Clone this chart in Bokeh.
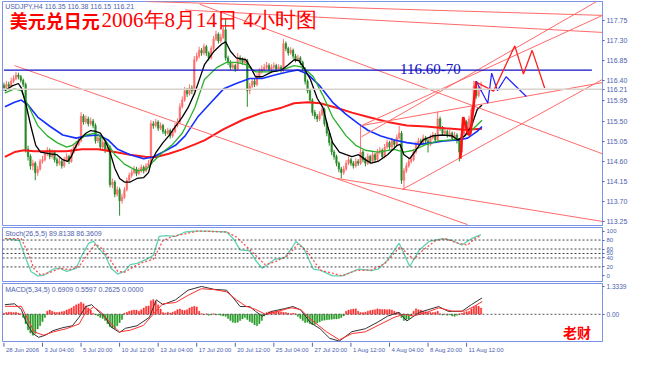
from bokeh.plotting import figure
from bokeh.layouts import column
from bokeh.models import Range1d, FixedTicker, Label, Span, NumeralTickFormatter, ColumnDataSource
from bokeh.core.properties import value
from bokeh.embed import file_html
from bokeh.resources import INLINE

# ---------------- data (H4 bars, index 0 = 28 Jun 2006 12:00) ----------------
first_open = 116.30
closes = [116.24,116.32,116.28,116.39,116.45,116.53,116.49,116.41,116.32,114.87,
          114.71,114.50,114.56,114.35,114.43,114.60,114.64,114.77,114.85,114.71,
          114.81,114.64,114.56,114.60,114.50,114.64,114.71,114.60,114.81,114.92,
          114.98,115.06,115.61,115.48,115.55,115.44,115.50,115.40,115.06,115.13,
          114.92,115.02,114.85,114.92,114.08,114.14,113.87,113.97,113.72,113.80,
          113.97,114.18,114.29,114.35,114.43,114.33,114.39,114.47,114.39,114.50,
          114.56,115.44,115.40,115.48,115.34,115.40,115.27,115.23,115.29,115.17,
          115.27,115.40,115.48,115.82,115.97,116.18,116.11,116.24,116.18,116.87,
          116.95,117.08,117.02,117.16,117.02,116.91,117.12,117.33,117.44,117.29,
          117.37,117.54,116.91,116.81,116.70,116.74,116.66,116.91,116.87,116.81,
          116.85,116.18,116.28,116.39,116.32,116.49,116.60,116.66,116.70,116.74,
          116.66,116.70,116.74,116.66,116.70,116.64,117.23,117.12,117.02,117.08,
          116.95,116.87,116.91,116.81,116.66,116.39,116.18,115.97,115.69,115.61,
          115.55,115.65,115.76,115.44,115.23,115.02,114.81,114.71,114.56,114.43,
          114.35,114.43,114.56,114.64,114.56,114.50,114.60,114.56,114.81,114.64,
          114.56,114.71,114.60,114.75,114.64,114.81,114.85,114.71,114.92,115.02,
          114.92,115.06,114.98,115.13,115.23,114.18,114.39,114.50,114.60,114.64,
          114.81,114.98,115.06,115.02,115.13,115.06,114.98,115.13,115.19,115.08,
          115.55,115.34,115.23,115.27,115.19,115.23,115.12,115.19,115.06,114.81,
          115.23,115.48,115.34,115.55,115.76,116.28,116.07,116.18,116.21]
highs = [116.36,116.40,116.38,116.47,116.52,116.60,116.58,116.53,116.45,116.36,
         114.95,114.76,114.64,114.60,114.50,114.66,114.72,114.83,114.92,114.89,
         114.87,114.85,114.69,114.68,114.64,114.70,114.78,114.75,114.88,114.99,
         115.05,115.13,115.70,115.66,115.63,115.60,115.58,115.55,115.45,115.20,
         115.17,115.09,115.06,114.99,114.96,114.22,114.18,114.04,114.02,113.88,
         114.03,114.24,114.35,114.42,114.50,114.48,114.46,114.53,114.51,114.56,
         114.63,115.52,115.50,115.55,115.52,115.47,115.44,115.32,115.35,115.33,
         115.34,115.46,115.56,115.90,116.05,116.26,116.24,116.32,116.30,116.95,
         117.03,117.16,117.13,117.23,117.20,117.06,117.18,117.40,117.52,117.48,
         117.45,117.62,117.79,116.96,116.86,116.81,116.78,117.02,116.97,116.92,
         116.92,116.89,116.35,116.46,116.44,116.56,116.68,116.74,116.78,116.82,
         116.79,116.77,116.81,116.78,116.77,116.75,117.33,117.28,117.16,117.15,
         117.12,117.00,116.98,116.95,116.85,116.70,116.43,116.22,116.01,115.75,
         115.66,115.72,115.84,115.80,115.48,115.27,115.06,114.86,114.75,114.60,
         114.48,114.50,114.63,114.71,114.68,114.61,114.67,114.65,115.40,114.86,
         114.69,114.78,114.75,114.82,114.79,114.88,114.92,114.89,114.99,115.09,
         115.06,115.13,115.10,115.20,115.40,115.28,114.45,114.57,114.67,114.71,
         114.88,115.05,115.13,115.11,115.20,115.17,115.10,115.20,115.26,115.23,
         115.71,115.60,115.39,115.34,115.31,115.30,115.27,115.26,115.23,115.10,
         115.30,115.56,115.52,115.62,115.83,116.40,116.33,116.28,116.38]
lows = [116.18,116.20,116.22,116.25,116.35,116.41,116.43,116.36,116.26,114.80,
        114.62,114.42,114.40,114.18,114.28,114.39,114.55,114.60,114.72,114.65,
        114.66,114.58,114.49,114.51,114.44,114.46,114.60,114.54,114.57,114.77,
        114.88,114.94,115.02,115.42,115.44,115.38,115.40,115.34,115.00,115.01,
        114.86,114.88,114.79,114.81,114.02,114.00,113.80,113.82,113.39,113.66,
        113.76,113.93,114.13,114.24,114.31,114.27,114.29,114.35,114.33,114.36,
        114.46,114.52,115.33,115.36,115.28,115.30,115.21,115.17,115.19,115.11,
        115.13,115.23,115.36,115.44,115.78,115.93,116.04,116.07,116.10,116.14,
        116.82,116.90,116.96,116.97,116.95,116.85,116.88,117.08,117.29,117.23,
        117.25,117.33,116.85,116.75,116.64,116.66,116.60,116.62,116.80,116.76,
        116.77,115.82,116.10,116.24,116.26,116.28,116.45,116.56,116.61,116.66,
        116.61,116.62,116.66,116.60,116.62,116.58,116.60,117.06,116.96,116.98,
        116.89,116.81,116.83,116.75,116.60,116.32,116.12,115.90,115.62,115.54,
        115.48,115.50,115.61,115.38,115.16,114.95,114.74,114.64,114.49,114.36,
        114.22,114.30,114.39,114.52,114.50,114.44,114.46,114.50,114.52,114.58,
        114.49,114.52,114.54,114.56,114.58,114.60,114.76,114.65,114.67,114.88,
        114.86,114.88,114.92,114.94,115.09,114.10,113.97,114.34,114.46,114.55,
        114.60,114.77,114.93,114.96,114.98,115.00,114.80,114.94,115.09,115.02,
        115.04,115.28,115.17,115.18,115.13,115.15,115.06,115.08,115.00,114.60,
        114.77,115.19,115.28,115.30,115.51,115.72,116.00,116.03,116.15]

# moving averages (bar index, price)
ma_black_x = [0.4,3.2,6,7.2,9.2,11.2,13.2,15.2,19.2,22,24.4,26.4,28,29.2,31.2,34,36,38,40,42,44,46,48,50,52.4,55.2,58,60,61.2,63.2,66,68.4,71.2,74,76.4,79.2,83.2,87.2,90.4,92,94,96.4,100.4,102.4,104.4,107.2,111.2,115.2,118,120.4,122.4,124.4,127.2,130,132.4,134.4,136.4,139.2,142,144.4,147.2,150,152.4,155.2,159.2,163.2,164.4,166,168.4,171.2,174,178,182,186,188.4,191.2,194,196.4,198.4]
ma_black_y = [116.18,116.28,116.34,116.24,115.86,115.38,114.96,114.81,114.77,114.75,114.64,114.60,114.71,114.87,115.08,115.23,115.29,115.27,115.23,115.06,114.81,114.45,114.22,114.14,114.14,114.22,114.24,114.35,114.60,114.81,115.02,115.17,115.38,115.59,115.80,116.13,116.76,117.06,117.22,117.27,117.06,116.91,116.87,116.70,116.49,116.49,116.60,116.64,116.76,116.87,116.85,116.70,116.43,116.01,115.80,115.38,115.02,114.81,114.75,114.71,114.75,114.64,114.56,114.60,114.75,114.96,114.98,114.75,114.66,114.87,115.08,115.17,115.19,115.17,115.08,115.17,115.38,115.76,115.86]
ma_green_x = [0.4,4.4,7.2,10,14,18,22,26,28.4,31.2,34,38,42,46,50,55.2,59.2,62,66,70,74,79.2,83.2,88.4,92.4,96.4,100.4,104.4,110,115.2,120.4,124.4,128.4,132.4,136.4,142,146,150,155.2,162,166,170,175.2,180.4,186,190,194,198.4]
ma_green_y = [116.13,116.22,116.18,115.86,115.40,115.17,115.02,114.92,114.96,115.08,115.19,115.23,115.08,114.75,114.54,114.39,114.43,114.60,114.81,114.98,115.23,115.80,116.43,116.70,116.81,116.81,116.76,116.60,116.60,116.64,116.74,116.70,116.49,116.07,115.59,115.17,114.96,114.85,114.81,114.87,114.81,114.85,114.98,115.06,115.08,115.12,115.29,115.52]
ma_blue_x = [0.4,4.4,7.2,10,14,19.2,24.4,30,34,39.2,43.2,47.2,52.4,58,62,66,71.2,75.2,80.4,86,91.2,96.4,102,107.2,112.4,118,122,126,131.2,136.4,142,147.2,151.2,156.4,162,167.2,172.4,178,183.2,188.4,192.4,196.4,198.4]
ma_blue_y = [115.82,115.92,115.97,115.86,115.59,115.38,115.19,115.12,115.17,115.19,115.08,114.87,114.75,114.66,114.70,114.81,114.96,115.17,115.59,115.92,116.22,116.34,116.45,116.45,116.53,116.60,116.64,116.55,116.28,115.92,115.65,115.44,115.29,115.17,115.08,115.02,114.98,115.02,115.06,115.08,115.12,115.27,115.38]
ma_red_x = [0.4,4.4,8.4,12.4,19.2,26,32.4,39.2,46,52.4,59.2,63.2,68.4,74,79.2,83.2,91.2,99.2,107.2,115.2,120.4,126,131.2,138,144.4,151.2,159.2,167.2,175.2,183.2,191.2,198.4]
ma_red_y = [114.70,114.81,114.85,114.83,114.83,114.83,114.87,114.87,114.81,114.75,114.70,114.70,114.77,114.87,114.98,115.07,115.32,115.53,115.69,115.80,115.90,115.92,115.90,115.80,115.69,115.59,115.48,115.40,115.38,115.34,115.31,115.33]

# drawn trend lines (bar index, price)
trend_x0 = [4.4, 81.2, 59.2, 75.2, 138.4, 165.2, 148.4, 148.4, 148.4]
trend_y0 = [116.74, 118.11, 118.17, 117.98, 114.22, 113.97, 115.40, 115.40, 115.15]
trend_x1 = [192.4, 248.4, 248.4, 248.4, 248.4, 248.4, 248.4, 248.4, 246.0]
trend_y1 = [113.19, 114.77, 117.86, 117.48, 113.26, 116.43, 116.36, 117.86, 118.17]
target_level = 116.64
target_x = [0, 244]
bid_level = 116.21
path_thick_x = [189.4, 190.6, 192.8, 193.6, 196.0]
path_thick_y = [114.66, 115.59, 115.19, 115.23, 116.39]
path_blue_x = [196.0, 200.8, 202.4, 204.8, 208.4, 216.8]
path_blue_y = [116.39, 115.90, 116.57, 116.18, 116.49, 116.05]
path_red_x = [196.4, 203.2, 212.0, 215.6, 219.2, 224.4]
path_red_y = [116.36, 116.17, 117.18, 116.55, 117.08, 116.24]

# Stochastic (26,5,5)
stoch_main_x = [0.4,6.4,9.2,11.2,14,16.4,20.4,23.2,26,30,32.4,35.2,37.2,39.2,42,44.4,47.2,50,52.4,55.2,59.2,62,64.4,67.2,71.2,75.2,79.2,84.4,92.4,95.2,98,102,104.4,107.2,110,112.4,116.4,119.2,121.2,124.4,128.4,131.2,136.4,140.4,147.2,152.4,155.2,159.2,164,168.4,172.4,176.4,182,186,190,194,198]
stoch_main_y = [83,79,37,10,0,1,15,17,10,17,46,73,77,62,46,17,4,10,25,28,37,46,88,90,88,98,100,100,98,83,58,56,35,17,27,37,40,60,77,62,15,13,0,0,15,12,15,35,73,21,58,77,83,79,69,83,92]
stoch_sig_x = [0.4,7.2,10.4,12.4,15.2,19.2,23.2,27.2,31.2,34.4,38,40.4,44,47.2,50,54,58,62,66,70,75.2,80.4,92.4,96.4,100.4,104.4,108.4,112.4,118,122,126,131.2,136.4,140.4,146,152.4,158,164.4,170,174,179.2,183.2,188.4,192.4,196.4,198]
stoch_sig_y = [83,83,46,17,2,8,17,14,21,46,71,62,37,10,8,21,31,37,79,88,94,100,98,87,67,46,25,31,46,71,54,13,6,0,12,13,27,65,37,58,79,83,73,69,87,88]
stoch_levels = [80, 60, 50, 40, 20]
stoch_ticks = [0, 20, 40, 50, 60, 80, 100]

# MACD (5,34,5)
macd_hist = [0.05,0.08,0.10,0.10,0.08,0.10,0.06,0.03,-0.15,-0.45,
             -0.75,-0.90,-1.00,-0.92,-0.70,-0.55,-0.35,-0.15,0.15,0.20,
             0.15,0.10,0.08,0.10,0.12,0.15,0.20,0.25,0.30,0.38,
             0.45,0.50,0.57,0.50,0.40,0.30,0.20,0.05,-0.03,-0.08,
             -0.15,-0.20,-0.30,-0.45,-0.60,-0.65,-0.68,-0.55,-0.40,-0.25,
             0.05,0.10,0.15,0.18,0.20,0.20,0.15,0.22,0.30,0.38,
             0.40,0.65,0.70,0.60,0.45,0.25,0.08,0.05,0.10,0.06,
             0.10,0.15,0.22,0.25,0.20,0.18,0.22,0.30,0.35,0.38,
             0.35,0.15,0.03,-0.02,0.02,-0.05,-0.03,0.02,-0.04,-0.02,
             -0.05,-0.08,-0.10,-0.20,-0.30,-0.38,-0.40,-0.38,-0.30,-0.22,
             -0.15,-0.25,-0.35,-0.40,-0.50,-0.55,-0.45,-0.30,-0.08,0.08,
             0.12,0.15,0.12,0.15,0.14,0.12,0.10,0.08,0.06,0.03,
             0.05,0.03,-0.10,-0.20,-0.30,-0.40,-0.38,-0.45,-0.50,-0.48,
             -0.42,-0.36,-0.30,-0.28,-0.26,-0.25,-0.24,-0.22,-0.22,-0.20,
             -0.15,-0.08,0.15,0.20,0.23,0.25,0.26,0.15,0.08,0.08,
             0.10,0.15,0.18,0.20,0.22,0.26,0.24,0.23,0.23,0.22,
             0.23,0.20,0.15,0.10,0.08,-0.15,-0.30,-0.25,-0.23,-0.08,
             0.15,0.26,0.22,0.20,0.15,0.12,0.10,0.08,0.08,0.10,
             0.15,0.02,-0.04,0.01,-0.05,-0.02,-0.08,-0.10,-0.05,0.02,
             0.05,0.08,0.12,0.15,0.26,0.35,0.41,0.38,0.30]
macd_main_x = [0.4,4.4,7.2,9.2,12,14.4,17.2,20.4,24.4,28.4,31.2,34,36.4,39.2,42,44.4,48,50.4,55.2,60.4,63.2,66,71.2,76.4,82,87.2,92.4,95.2,98,102,104.4,107.2,111.2,116.4,120,123.2,127.2,131.2,135.2,139.2,144.4,150,155.2,159.2,164,167.2,172.4,180.4,184.4,190,194,198.4]
macd_main_y = [0.46,0.50,0.23,-0.37,-0.92,-1.10,-1.00,-0.78,-0.64,-0.55,-0.14,0.37,0.46,0.14,-0.14,-0.60,-0.87,-0.67,-0.55,-0.14,0.69,0.46,0.69,1.15,1.33,1.19,1.15,0.78,0.37,0.37,0.14,-0.09,0.14,0.27,0.37,0.20,-0.40,-0.69,-1.15,-1.28,-0.83,-0.69,-0.37,-0.09,0.09,-0.32,0.09,0.37,0.14,0.14,0.46,0.78]
macd_sig_x = [0.4,7.2,9.9,12.5,16.5,20.5,25.9,31.2,33.9,37.2,40.5,44.5,47.9,52.5,57.9,61.9,65.9,71.2,76.5,81.9,87.2,92.5,96.5,100.5,104.5,108.5,113.9,119.2,123.2,127.2,130.5,133.9,139.2,144.5,149.9,156.5,161.9,165.9,169.9,175.2,180.5,185.9,191.2,195.2,198.5]
macd_sig_y = [0.38,0.38,-0.23,-0.84,-1.00,-0.84,-0.69,-0.46,0.08,0.35,0.08,-0.46,-0.84,-0.76,-0.53,0.00,0.50,0.56,0.91,1.22,1.18,1.07,0.69,0.38,0.23,0.00,0.15,0.31,0.23,-0.23,-0.53,-0.84,-1.22,-0.92,-0.84,-0.46,-0.15,0.00,-0.08,0.08,0.31,0.15,0.15,0.38,0.61]
macd_ticks = [-1.3224, 0.0, 1.3339]

price_ticks = [113.25, 113.70, 114.15, 114.60, 115.05, 115.50, 115.95, 116.21, 116.40, 116.85, 117.30, 117.75]
time_tick_bars = [0, 16, 32, 48, 64, 80, 96, 112, 128, 144, 160, 176, 192]
time_labels = ["28 Jun 2006", "3 Jul 04:00", "5 Jul 20:00", "10 Jul 12:00", "13 Jul 04:00",
               "17 Jul 20:00", "20 Jul 12:00", "25 Jul 04:00", "27 Jul 20:00", "1 Aug 12:00",
               "4 Aug 04:00", "8 Aug 20:00", "11 Aug 12:00"]

# ---------------- styling ----------------
FW = 600
AX = "#7b93e6"
LAB = "#4d62b0"
UP = "#ff6e6e"
DN = "#2a8a2a"
TL = "#ff6a6a"
xr = Range1d(-0.6, 248.4)


def panel(fh, y0, y1, ticks, fmt, fsize="7px"):
    p = figure(frame_width=FW, frame_height=fh, x_range=xr, y_range=Range1d(y0, y1),
               output_backend="svg", toolbar_location=None,
               min_border_left=2, min_border_right=0, min_border_top=1, min_border_bottom=1,
               x_axis_location=None, y_axis_location="right")
    p.grid.visible = False
    p.outline_line_color = AX
    p.background_fill_color = "white"
    p.border_fill_color = "white"
    ax = p.yaxis[0]
    ax.ticker = FixedTicker(ticks=ticks)
    ax.formatter = NumeralTickFormatter(format=fmt)
    ax.axis_line_color = AX
    ax.major_tick_line_color = LAB
    ax.major_tick_in = 0
    ax.major_tick_out = 2
    ax.minor_tick_line_color = None
    ax.major_label_standoff = 2
    ax.major_label_text_font = "Liberation Sans"
    ax.major_label_text_font_size = fsize
    ax.major_label_text_color = LAB
    return p


# ---------------- main price panel ----------------
pm = panel(224, 113.17, 118.17, price_ticks, "0.00")

n = len(closes)
bars = list(range(n))
opens = [first_open] + closes[:-1]
colors = [UP if c >= o else DN for o, c in zip(opens, closes)]
src = ColumnDataSource(dict(
    x=bars, h=highs, l=lows,
    top=[max(o, c) for o, c in zip(opens, closes)],
    bot=[min(o, c) for o, c in zip(opens, closes)],
    col=colors))

pm.add_layout(Span(location=bid_level, dimension="width", line_color="#d9d2ca", line_width=1.5))
pm.segment(x0="x", y0="l", x1="x", y1="h", color="col", line_width=1, source=src)
pm.vbar(x="x", width=0.6, top="top", bottom="bot", fill_color="col", line_color="col",
        line_width=0.6, source=src)

pm.line(ma_red_x, ma_red_y, line_color="#ff1a1a", line_width=2)
pm.line(ma_blue_x, ma_blue_y, line_color="#1530ff", line_width=1.6)
pm.line(ma_green_x, ma_green_y, line_color="#2bb02b", line_width=1.3)
pm.line(ma_black_x, ma_black_y, line_color="#000000", line_width=1.3)

pm.segment(x0=trend_x0, y0=trend_y0, x1=trend_x1, y1=trend_y1, line_color=TL, line_width=1)
pm.segment(x0=[target_x[0]], y0=[target_level], x1=[target_x[1]], y1=[target_level],
           line_color="#1010c0", line_width=1.3)
pm.line(path_thick_x, path_thick_y, line_color="#ff1010", line_width=2.6)
pm.line(path_blue_x, path_blue_y, line_color="#2020ff", line_width=1.2)
pm.line(path_red_x, path_red_y, line_color="#ff2020", line_width=1.3)

pm.add_layout(Label(x=0.5, y=118.17, y_offset=-1, text="USDJPY,H4  116.35 116.38 116.15 116.21",
                    text_font="Liberation Sans", text_font_size="7px", text_color=LAB,
                    text_baseline="top"))
pm.add_layout(Label(x=2.4, y=117.75, text="美元兑日元", text_font="Noto Sans CJK SC",
                    text_font_style="bold", text_font_size="18px", text_color="#ff0000",
                    text_baseline="middle"))
pm.add_layout(Label(x=40.5, y=117.75, text="2006年8月14日 4小时图", text_font="Liberation Serif",
                    text_font_size="21px", text_color="#ff0000", text_baseline="middle"))
pm.add_layout(Label(x=164.4, y=target_level, y_offset=1, text="116.60-70",
                    text_font="Liberation Serif", text_font_size="15px", text_color="#1010c0",
                    text_baseline="alphabetic"))

# ---------------- stochastic panel ----------------
ps = panel(54, -12.5, 108, stoch_ticks, "0", "6px")
for lv in stoch_levels:
    ps.add_layout(Span(location=lv, dimension="width", line_color="#444444", line_width=1,
                       line_dash="2 2"))
ps.line(stoch_main_x, stoch_main_y, line_color="#5fd3b3", line_width=1.3)
ps.line(stoch_sig_x, stoch_sig_y, line_color="#ff5050", line_width=1.3, line_dash="2 2")
ps.add_layout(Label(x=0.5, y=108, y_offset=-2, text="Stoch(26,5,5) 89.8138 86.3609",
                    text_font="Liberation Sans", text_font_size="7px", text_color=LAB,
                    text_baseline="top"))

# ---------------- MACD panel ----------------
pd = panel(58, -1.30, 1.47, macd_ticks, "0.00", "6.5px")
pd.yaxis[0].major_label_overrides = {-1.3224: "-1.3224", 0.0: "0.00", 1.3339: "1.3339"}
pd.add_layout(Span(location=0, dimension="width", line_color="#555555", line_width=1,
                   line_dash="2 2"))
hcol = ["#ff2a2a" if v >= 0 else "#229a22" for v in macd_hist]
pd.vbar(x=bars, width=0.55, top=[max(v, 0) for v in macd_hist],
        bottom=[min(v, 0) for v in macd_hist], fill_color=hcol, line_color=hcol, line_width=0.4)
pd.line(macd_main_x, macd_main_y, line_color="#333333", line_width=1)
pd.line(macd_sig_x, macd_sig_y, line_color="#ff3030", line_width=1)
pd.add_layout(Label(x=0.5, y=1.47, y_offset=-2, text="MACD(5,34,5) 0.6909 0.5597 0.2625 0.0000",
                    text_font="Liberation Sans", text_font_size="7px", text_color=LAB,
                    text_baseline="top"))
pd.add_layout(Label(x=232.0, y=-0.85, text="老财", text_font="Noto Sans CJK SC",
                    text_font_style="bold", text_font_size="14px", text_color="#ff0000",
                    text_baseline="middle"))

# ---------------- time labels strip ----------------
pt = figure(frame_width=FW, frame_height=14, x_range=xr, y_range=Range1d(0, 1),
            output_backend="svg", toolbar_location=None,
            min_border_left=2, min_border_right=0, min_border_top=0, min_border_bottom=0,
            x_axis_location=None, y_axis_location=None)
pt.grid.visible = False
pt.outline_line_color = None
k = len(time_tick_bars)
pt.segment(x0=time_tick_bars, y0=[1.0] * k, x1=time_tick_bars, y1=[0.7] * k, line_color=LAB)
pt.text(x=time_tick_bars, y=[0.45] * k, text=time_labels, x_offset=2,
        text_font=value("Liberation Sans"), text_font_size="6px", text_color=LAB,
        text_baseline="middle", text_align="left")

layout = column(pm, ps, pd, pt, spacing=0)
open("out.html", "w").write(file_html(layout, INLINE))
